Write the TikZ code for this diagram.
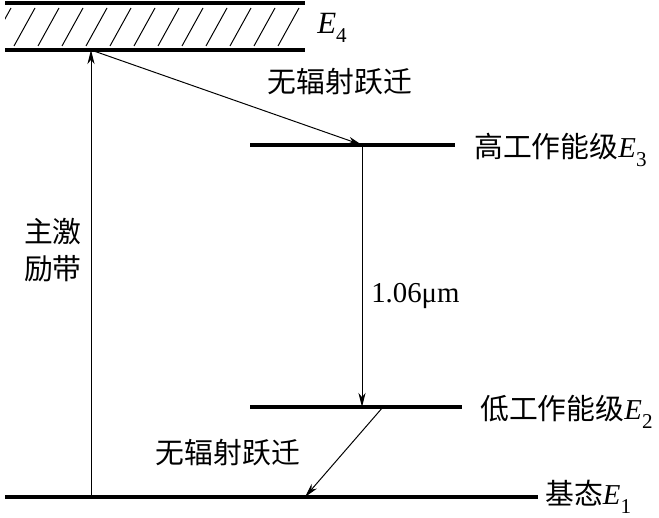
\documentclass[tikz,border=0pt]{standalone}
\usepackage{fontspec}
\setmainfont{Liberation Serif}
\newfontfamily\cjk{Noto Sans CJK SC}
\usetikzlibrary{arrows.meta, positioning}
\newcommand{\lvE}[1]{{\normalfont\itshape E}\raisebox{-0.3em}{\normalfont\fontsize{15}{16}\selectfont #1}}

\begin{document}
\begin{tikzpicture}[
    x=0.025cm, y=-0.025cm,
    level/.style={line width=2.6pt},
    hatch/.style={line width=0.7pt},
    arr/.style={-{Stealth[length=10pt, width=5pt, inset=3pt]}, line width=0.7pt},
    lvlbl/.style={anchor=west, inner sep=0pt, font=\fontsize{20.5}{24}\selectfont},
    trlbl/.style={inner sep=0pt, font=\fontsize{20.5}{26}\selectfont},
]
  \useasboundingbox (0,0) rectangle (659,518);

  % energy levels
  \coordinate (e4a) at (5,3);    \coordinate (e4b) at (305,3);
  \coordinate (e4c) at (5,50);   \coordinate (e4d) at (305,50);
  \coordinate (e3a) at (250,145); \coordinate (e3b) at (455,145);
  \coordinate (e2a) at (250,407); \coordinate (e2b) at (462,407);
  \coordinate (e1a) at (5,497);   \coordinate (e1b) at (538,497);

  \begin{scope}
    \clip (5,6) rectangle (305,47);
    \foreach \x in {-10,14,...,300}
      \draw[hatch] (\x,46) -- (\x+21,8);
  \end{scope}
  \draw[level] (e4a) -- (e4b);
  \draw[level] (e4c) -- (e4d);
  \draw[level] (e3a) -- (e3b);
  \draw[level] (e2a) -- (e2b);
  \draw[level] (e1a) -- (e1b);

  % labels of the levels
  \node[lvlbl, font=\fontsize{22}{24}\selectfont] (l4) at (317,28) {\lvE{4}};
  \node[lvlbl] (l3) at (474,150) {\cjk 高工作能级\lvE{3}};
  \node[lvlbl] (l2) at (480,412) {\cjk 低工作能级\lvE{2}};
  \node[lvlbl] (l1) at (545,497) {\cjk 基态\lvE{1}};

  % transitions
  \coordinate (pump0) at (91,497);
  \coordinate (pump1) at (91,50);
  \coordinate (nr0) at (362,145);
  \coordinate (las1) at (362,407);
  \coordinate (nr2a) at (383,407);
  \coordinate (nr2b) at (305,497);

  \draw[arr] (pump0) -- (pump1);
  \draw[arr] (pump1) -- (nr0);
  \draw[arr] (nr0) -- (las1);
  \draw[arr] (nr2a) -- (nr2b);

  \node[trlbl] (t1) at (340,82) {\cjk 无辐射跃迁};
  \node[trlbl] (t2) at (228,453) {\cjk 无辐射跃迁};
  \node[trlbl, align=center] (pumpl) at (53,250) {\cjk 主激\\ \cjk 励带};
  \node[trlbl, anchor=west] (wl) at (371,296) {1.06μm};
\end{tikzpicture}
\end{document}
